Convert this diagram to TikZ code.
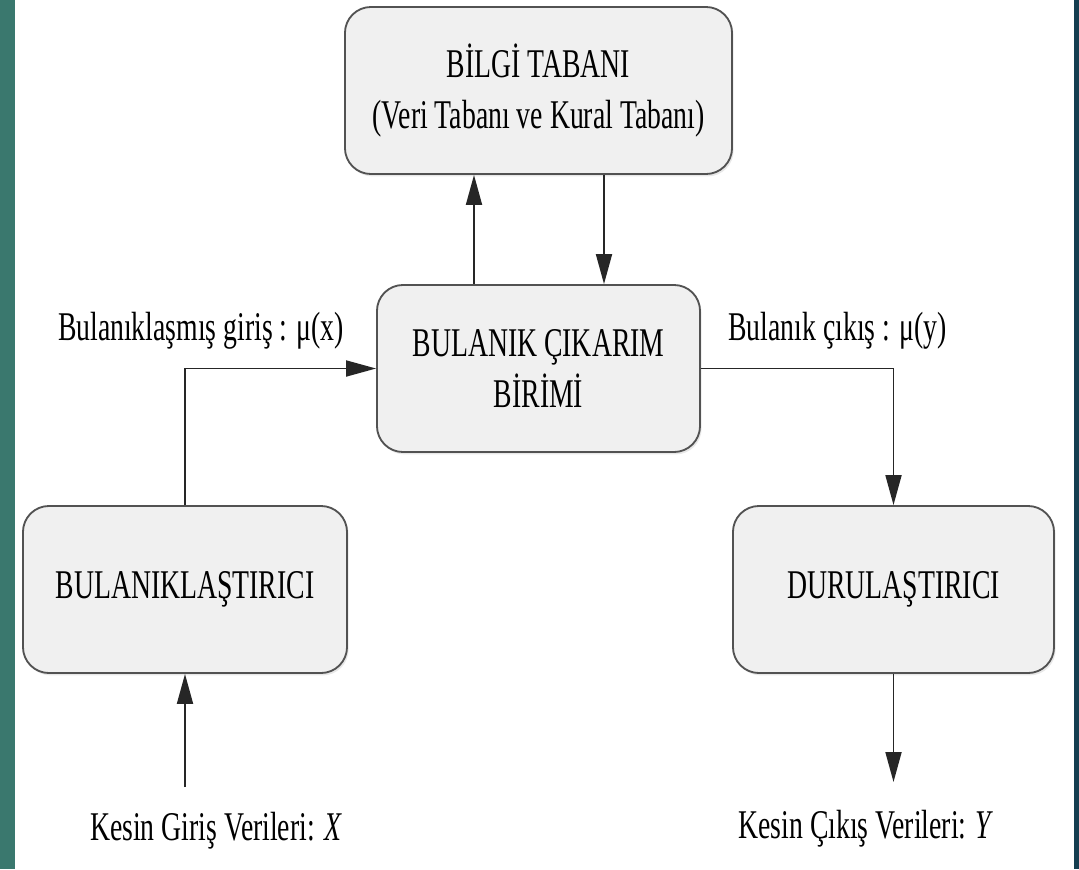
\documentclass[tikz,border=0pt]{standalone}
\usepackage{fontspec}
\setmainfont{Liberation Serif}[FakeStretch=0.68]
\usetikzlibrary{arrows.meta,calc,shadows}
\definecolor{leftbar}{RGB}{58,120,110}
\definecolor{rightbar}{RGB}{20,62,80}
\definecolor{boxfill}{RGB}{240,240,240}

\begin{document}
\begin{tikzpicture}[x=0.025cm,y=-0.025cm,>={Triangle[length=0.75cm,width=0.4cm]},
  blok/.style={draw=black!68,line width=1.3pt,fill=boxfill,rounded corners=0.65cm,
    minimum height=4.175cm,align=center,font=\fontsize{29}{36}\selectfont,
    drop shadow={opacity=0.18,shadow xshift=0.04cm,shadow yshift=-0.06cm}},
  etiket/.style={font=\fontsize{29}{36}\selectfont,anchor=base},
  ok/.style={->,line width=1.3pt,black!85}]
  \fill[white] (0,0) rectangle (1079,869);
  \fill[leftbar] (0,0) rectangle (15,869);
  \fill[rightbar] (1074,0) rectangle (1079,869);
  % kutular
  \node[blok,minimum width=9.675cm] (bilgi) at (538.5,90.5) {BİLGİ TABANI\\(Veri Tabanı ve Kural Tabanı)};
  \node[blok,minimum width=8.075cm] (cikarim) at (538.5,368.5) {BULANIK ÇIKARIM\\BİRİMİ};
  \node[blok,minimum width=8.1cm] (bulan) at (185,589.5) {BULANIKLAŞTIRICI};
  \node[blok,minimum width=8.025cm] (durul) at (893.5,589.5) {DURULAŞTIRICI};
  % etiketler
  \node[etiket] (mux) at (201,340) {Bulanıklaşmış giriş : μ(x)};
  \node[etiket] (muy) at (837.5,340) {Bulanık çıkış : μ(y)};
  \node[etiket] (kin) at (216,840) {Kesin Giriş Verileri: \textit{X}};
  \node[etiket] (kout) at (866,838) {Kesin Çıkış Verileri: \textit{Y}};
  \coordinate (giris) at (185,787);
  \coordinate (cikis) at (893.5,782);
  % oklar
  \draw[ok] ($(cikarim.north)+(-64.5,0)$) -- ($(bilgi.south)+(-64.5,0)$);
  \draw[ok] ($(bilgi.south)+(65.5,0)$) -- ($(cikarim.north)+(65.5,0)$);
  \draw[ok] (bulan.north) |- (cikarim.west);
  \draw[ok] (cikarim.east) -| (durul.north);
  \draw[ok] (giris) -- (bulan.south);
  \draw[ok] (durul.south) -- (cikis);
\end{tikzpicture}
\end{document}
